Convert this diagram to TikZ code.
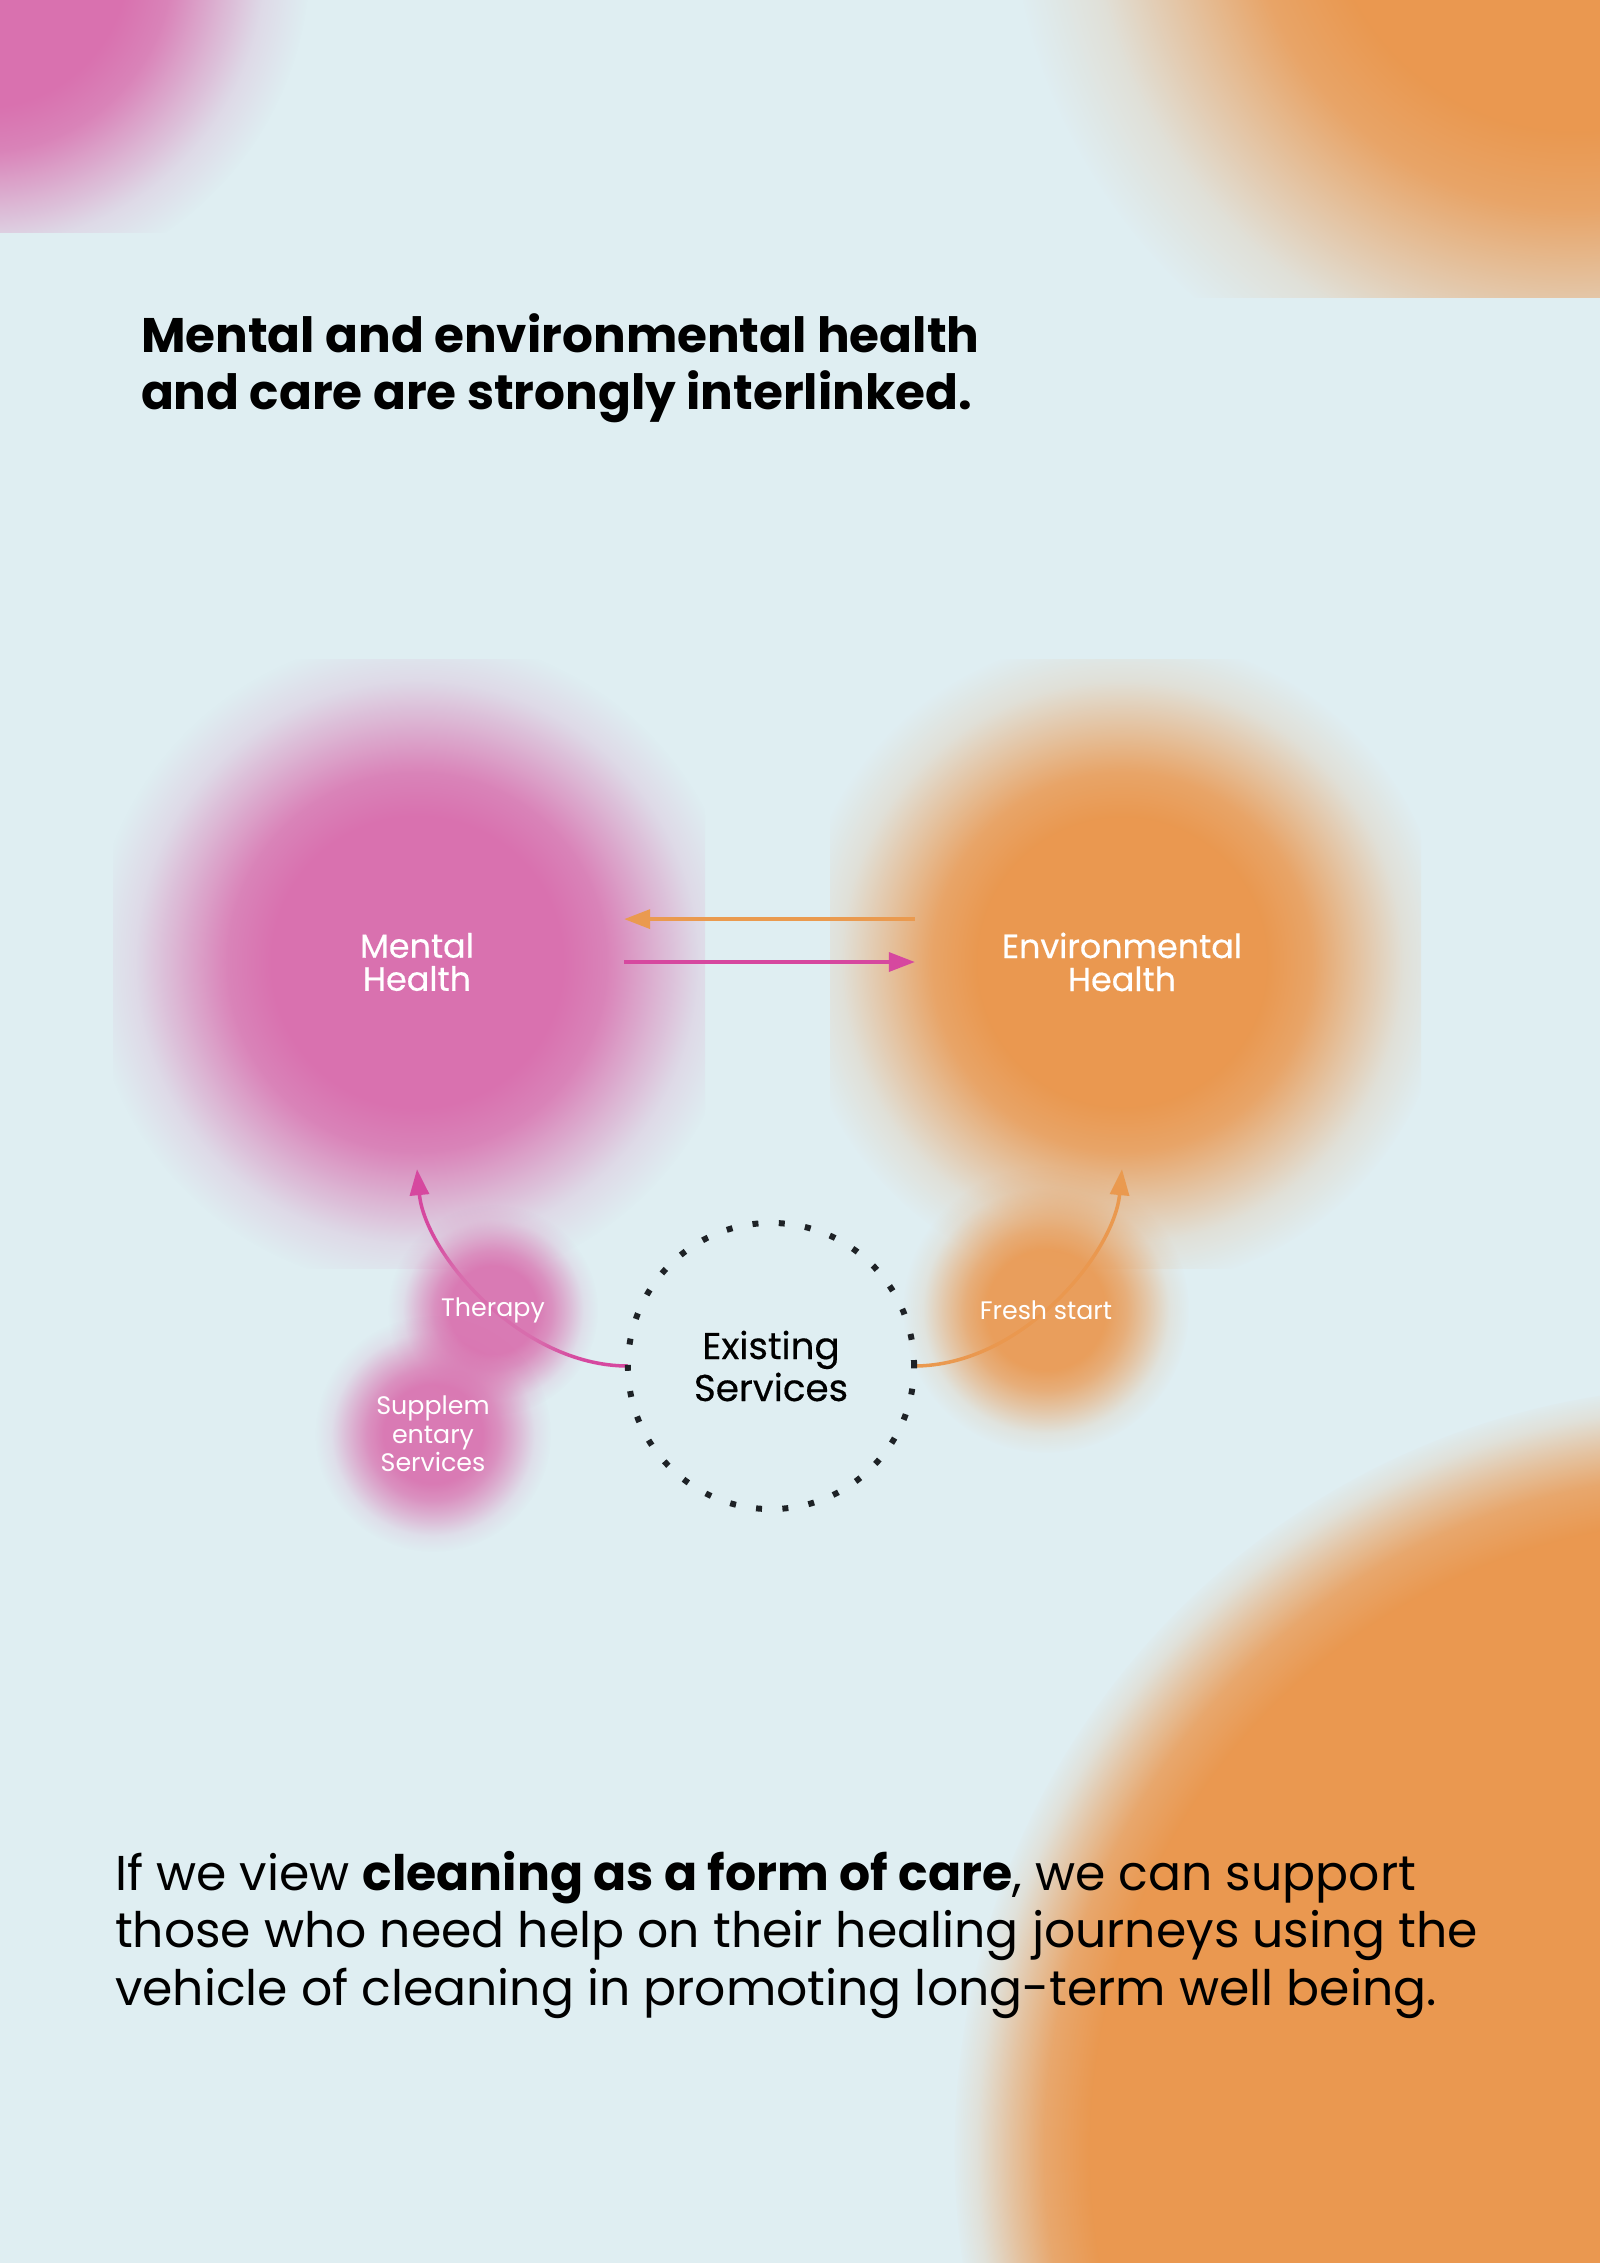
\documentclass[tikz,border=0pt]{standalone}
\usepackage{fontspec}
\setmainfont{Poppins}
\newfontfamily\hubfont[FakeBold=0.4]{Poppins}
\usetikzlibrary{arrows.meta,fadings}

\definecolor{bgblue}{HTML}{DFEEF2}
\definecolor{pinkblob}{HTML}{D971AF}
\definecolor{orangeblob}{HTML}{EA9850}
\definecolor{pinkline}{HTML}{D6489F}
\definecolor{orangeline}{HTML}{EA9A4F}
\definecolor{dotink}{HTML}{1E2226}

% soft edged blobs
\pgfdeclareradialshading{softshade}{\pgfpointorigin}{rgb(0bp)=(1,1,1); rgb(11bp)=(1,1,1); rgb(14.5bp)=(0.85,0.85,0.85); rgb(18bp)=(0.5,0.5,0.5); rgb(21.5bp)=(0.16,0.16,0.16); rgb(25bp)=(0,0,0); rgb(50bp)=(0,0,0)}
\pgfdeclarefading{soft}{\pgfuseshading{softshade}}
\pgfdeclareradialshading{smallshade}{\pgfpointorigin}{rgb(0bp)=(0.92,0.92,0.92); rgb(10.5bp)=(0.92,0.92,0.92); rgb(14bp)=(0.74,0.74,0.74); rgb(17.5bp)=(0.46,0.46,0.46); rgb(21.5bp)=(0.12,0.12,0.12); rgb(25bp)=(0,0,0); rgb(50bp)=(0,0,0)}
\pgfdeclarefading{small}{\pgfuseshading{smallshade}}
\pgfdeclareradialshading{sharpshade}{\pgfpointorigin}{rgb(0bp)=(1,1,1); rgb(20.5bp)=(1,1,1); rgb(22bp)=(0.82,0.82,0.82); rgb(23.1bp)=(0.5,0.5,0.5); rgb(24.2bp)=(0.15,0.15,0.15); rgb(25bp)=(0,0,0); rgb(50bp)=(0,0,0)}
\pgfdeclarefading{sharp}{\pgfuseshading{sharpshade}}

\pgfdeclarelayer{back}
\pgfdeclarelayer{blobs}
\pgfsetlayers{back,blobs,main}

\tikzset{
  hub/.style={circle, minimum size=4.14cm, text=white, font=\hubfont\fontsize{9.5}{9.4}\selectfont},
  ring/.style={circle, minimum size=2.86cm, draw=dotink, line width=1.7pt, dash pattern=on 1.7pt off 5.8pt, font=\hubfont\fontsize{10.6}{10}\selectfont},
  tag/.style={text=white, font=\fontsize{7.2}{8.1}\selectfont},
  link/.style={line width=1pt, -{Triangle[length=7.4pt,width=5.4pt]}}
}

\begin{document}
\begin{tikzpicture}[x=0.01cm, y=-0.01cm]
\tikzstyle{every node} = [inner sep=0pt, outer sep=0pt, align=center]
\useasboundingbox (0,0) rectangle (1600,2263);

\node[hub] (mh) at (417,962) {Mental\\Health};
\node[hub] (eh) at (1122,962) {Environmental\\Health};
\node[ring] (es) at (771,1366) {Existing\\Services};
\node[tag] (th) at (493,1310) {Therapy};
\node[tag] (fs) at (1046,1310) {Fresh start};
\node[tag] (ss) at (433,1434) {Supplem\\entary\\Services};

\node[anchor=base west, align=left, font=\bfseries\fontsize{13.8}{16}\selectfont] (title) at (141,409)
  {Mental and environmental health\\and care are strongly interlinked.};
\node[anchor=base west, align=left, font=\fontsize{13.9}{16.3}\selectfont] (body) at (115,2005)
  {If we view \textbf{cleaning as a form of care}, we can support\\those who need help on their healing journeys using the\\vehicle of cleaning in promoting long-term well being.};

\begin{pgfonlayer}{back}
\fill[bgblue] (0,0) rectangle (1600,2263);
% corners
\begin{scope}
\clip (0,0) rectangle (323,232);
\fill[pinkblob, path fading=soft] (-20,-40) circle[radius=330];
\end{scope}
\begin{scope}
\clip (900,0) rectangle (1600,297);
\fill[orangeblob, path fading=soft] (1575,-120) circle[radius=565];
\end{scope}
\fill[orangeblob, path fading=sharp] (1720,2150) circle[radius=765];
% the two health blobs
\begin{scope}
\clip (113,659) rectangle (705,1268);
\fill[pinkblob, path fading=soft] (mh) circle[radius=326];
\end{scope}
\begin{scope}
\clip (830,659) rectangle (1421,1268);
\fill[orangeblob, path fading=soft] (eh) circle[radius=326];
\end{scope}
% links
\draw[link, orangeline] ([yshift=12.2pt]eh.west) -- ([yshift=12.2pt]mh.east);
\draw[link, pinkline] (mh.east) -- (eh.west);
\draw[link, pinkline] (es.west) .. controls +(-108,0) and +(8,84) .. (mh.south);
\draw[link, orangeline] (es.east) .. controls +(108,0) and +(-8,84) .. (eh.south);
\end{pgfonlayer}

\begin{pgfonlayer}{blobs}
\fill[pinkblob, path fading=small] (th) circle[radius=105];
\fill[pinkblob, path fading=small] (ss) circle[radius=118];
\fill[orangeblob, path fading=small] (fs) circle[radius=143];
\end{pgfonlayer}
\end{tikzpicture}
\end{document}
